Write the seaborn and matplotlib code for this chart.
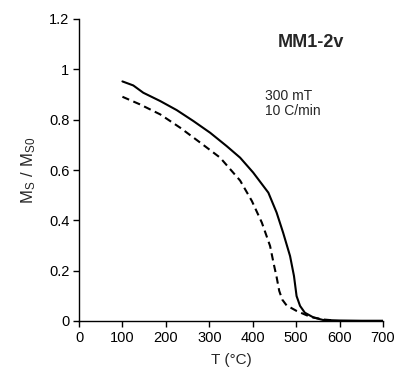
import numpy as np
import pandas as pd
import matplotlib
matplotlib.use("Agg")
import matplotlib.pyplot as plt
import seaborn as sns

heat_T = [100, 125, 148, 187, 225, 263, 302, 340, 371, 401, 436, 455, 470, 486, 495, 501, 509, 520, 540, 562, 600, 650, 700]
heat_M = [0.952, 0.936, 0.907, 0.874, 0.838, 0.795, 0.748, 0.695, 0.649, 0.590, 0.510, 0.431, 0.351, 0.258, 0.179, 0.099, 0.060, 0.033, 0.014, 0.004, 0.002, 0.001, 0.001]
cool_T = [100, 140, 187, 233, 279, 325, 371, 398, 421, 440, 448, 455, 461, 468, 478, 501, 532, 562, 590]
cool_M = [0.891, 0.861, 0.821, 0.768, 0.709, 0.649, 0.558, 0.477, 0.391, 0.298, 0.230, 0.175, 0.120, 0.085, 0.062, 0.040, 0.017, 0.006, 0.002]

df = pd.concat([
    pd.DataFrame({"T": heat_T, "M": heat_M, "curve": "heating"}),
    pd.DataFrame({"T": cool_T, "M": cool_M, "curve": "cooling"}),
])

sns.set_style("ticks")
plt.rcParams['font.family'] = ['Liberation Sans', 'DejaVu Sans']
plt.rcParams['mathtext.fontset'] = 'custom'
plt.rcParams['mathtext.rm'] = 'Liberation Sans'

fig = plt.figure(figsize=(3.98, 3.72), dpi=100)
ax = fig.add_axes([79/398, 1 - 321/372, (383-79)/398, (321-19)/372])

sns.lineplot(data=df, x="T", y="M", style="curve", style_order=["heating", "cooling"],
             dashes={"heating": "", "cooling": (3.5, 2.2)}, color="black",
             linewidth=1.5, legend=False, ax=ax, sort=False)

ax.set_xlim(0, 700)
ax.set_ylim(0, 1.2)
ax.set_xticks(np.arange(0, 701, 100))
ax.set_yticks([0, 0.2, 0.4, 0.6, 0.8, 1.0, 1.2])
ax.set_yticklabels(["0", "0.2", "0.4", "0.6", "0.8", "1", "1.2"])
for s in ["top", "right"]:
    ax.spines[s].set_visible(False)
for s in ["left", "bottom"]:
    ax.spines[s].set_linewidth(1.0)
    ax.spines[s].set_color("black")
ax.tick_params(direction="out", length=4, width=1.0, labelsize=10.5, colors="black", pad=3)
ax.set_xlabel("T (°C)", fontsize=11, labelpad=6)
ax.set_ylabel(r"$\mathregular{M_S\ /\ M_{S0}}$", fontsize=12, labelpad=8)

ax.text(0.763, 0.922, "MM1-2v", transform=ax.transAxes, fontsize=13, fontweight="bold",
        ha="center", va="center")
ax.text(0.612, 0.72, "300 mT\n10 C/min", transform=ax.transAxes, fontsize=10,
        ha="left", va="center", linespacing=1.05)

fig.savefig("out.png", dpi=100)
